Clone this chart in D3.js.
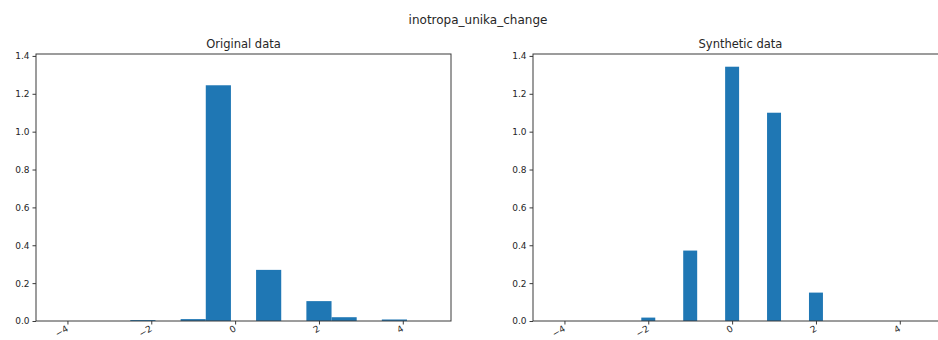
<!DOCTYPE html>
<html>
<head>
<meta charset="utf-8">
<script src="https://cdn.jsdelivr.net/npm/d3@7"></script>
<style>
  html, body { margin: 0; padding: 0; background: #fff; }
  svg { display: block; font-family: "DejaVu Sans", sans-serif; }
</style>
</head>
<body>
<svg id="chart" width="938" height="340"></svg>
<script>
// Histogram densities for inotropa_unika_change
const chartTitle = "inotropa_unika_change";
const panelTitles = ["Original data", "Synthetic data"];

// Original data: 15 bins of width 0.6 starting at -4.3
const originalBinStart = -4.3;
const originalBinWidth = 0.6;
const originalDensity = [0, 0, 0, 0.005, 0, 0.01, 1.245, 0, 0.27, 0, 0.105, 0.02, 0, 0.008, 0];

// Synthetic data: bins of width 1/3 centred on integers
const syntheticCenters = [-2, -1, 0, 1, 2];
const syntheticBinWidth = 1 / 3;
const syntheticDensity = [0.018, 0.372, 1.343, 1.10, 0.15];

const xTickValues = [-4, -2, 0, 2, 4];
const yTickValues = [0, 0.2, 0.4, 0.6, 0.8, 1.0, 1.2, 1.4];

// Build bar records [x0, x1, value]
const originalBars = originalDensity.map((v, i) => ({
  x0: originalBinStart + i * originalBinWidth,
  x1: originalBinStart + (i + 1) * originalBinWidth,
  v
}));
const syntheticBars = syntheticDensity.map((v, i) => ({
  x0: syntheticCenters[i] - syntheticBinWidth / 2,
  x1: syntheticCenters[i] + syntheticBinWidth / 2,
  v
}));

// Shared axes limits with 5% padding
const allBars = originalBars.concat(syntheticBars);
const xmin = d3.min(allBars, d => d.x0), xmax = d3.max(allBars, d => d.x1);
const xpad = (xmax - xmin) * 0.05;
const ymax = d3.max(allBars, d => d.v) * 1.05;

const svg = d3.select("#chart");
const textColor = "#262626";
const spineColor = "#3a3a3a";
const barColor = "#1f77b4";

svg.append("text")
  .attr("x", 478).attr("y", 24)
  .attr("text-anchor", "middle")
  .attr("font-size", 12)
  .attr("fill", textColor)
  .text(chartTitle);

const panels = [
  { left: 36, bars: originalBars, title: panelTitles[0] },
  { left: 533, bars: syntheticBars, title: panelTitles[1] }
];
const panelWidth = 415, plotTop = 54, plotBottom = 321;

const fmt = d3.format(".1f");
const fmtX = d3.format("d");

panels.forEach(p => {
  const x = d3.scaleLinear().domain([xmin - xpad, xmax + xpad]).range([p.left, p.left + panelWidth]);
  const y = d3.scaleLinear().domain([0, ymax]).range([plotBottom, plotTop]);
  const g = svg.append("g");

  g.selectAll("rect.bar").data(p.bars.filter(d => d.v > 0)).enter()
    .append("rect")
    .attr("class", "bar")
    .attr("x", d => x(d.x0))
    .attr("width", d => x(d.x1) - x(d.x0))
    .attr("y", d => y(d.v))
    .attr("height", d => y(0) - y(d.v))
    .attr("fill", barColor);

  // Frame
  g.append("rect")
    .attr("x", p.left).attr("y", plotTop)
    .attr("width", panelWidth).attr("height", plotBottom - plotTop)
    .attr("fill", "none")
    .attr("stroke", spineColor)
    .attr("stroke-width", 1);

  // Y axis
  const yAxis = g.append("g")
    .attr("transform", `translate(${p.left},0)`)
    .call(d3.axisLeft(y).tickValues(yTickValues).tickFormat(fmt).tickSize(3.5).tickPadding(3));
  yAxis.select(".domain").remove();
  yAxis.selectAll("line").attr("stroke", spineColor);
  yAxis.selectAll("text").attr("fill", textColor).attr("font-size", 9).attr("font-family", "DejaVu Sans, sans-serif");

  // X axis with rotated tick labels
  const xAxis = g.append("g")
    .attr("transform", `translate(0,${plotBottom})`)
    .call(d3.axisBottom(x).tickValues(xTickValues).tickFormat(d => d < 0 ? "\u2212" + Math.abs(d) : fmtX(d)).tickSize(3.5));
  xAxis.select(".domain").remove();
  xAxis.selectAll("line").attr("stroke", spineColor);
  xAxis.selectAll("text")
    .attr("fill", textColor)
    .attr("font-size", 9)
    .attr("font-family", "DejaVu Sans, sans-serif")
    .attr("text-anchor", "end")
    .attr("dy", null)
    .attr("y", 0)
    .attr("transform", "translate(1,9.5) rotate(-30)");

  g.append("text")
    .attr("x", p.left + panelWidth / 2).attr("y", 48)
    .attr("text-anchor", "middle")
    .attr("font-size", 11.5)
    .attr("fill", textColor)
    .text(p.title);
});
</script>
</body>
</html>
